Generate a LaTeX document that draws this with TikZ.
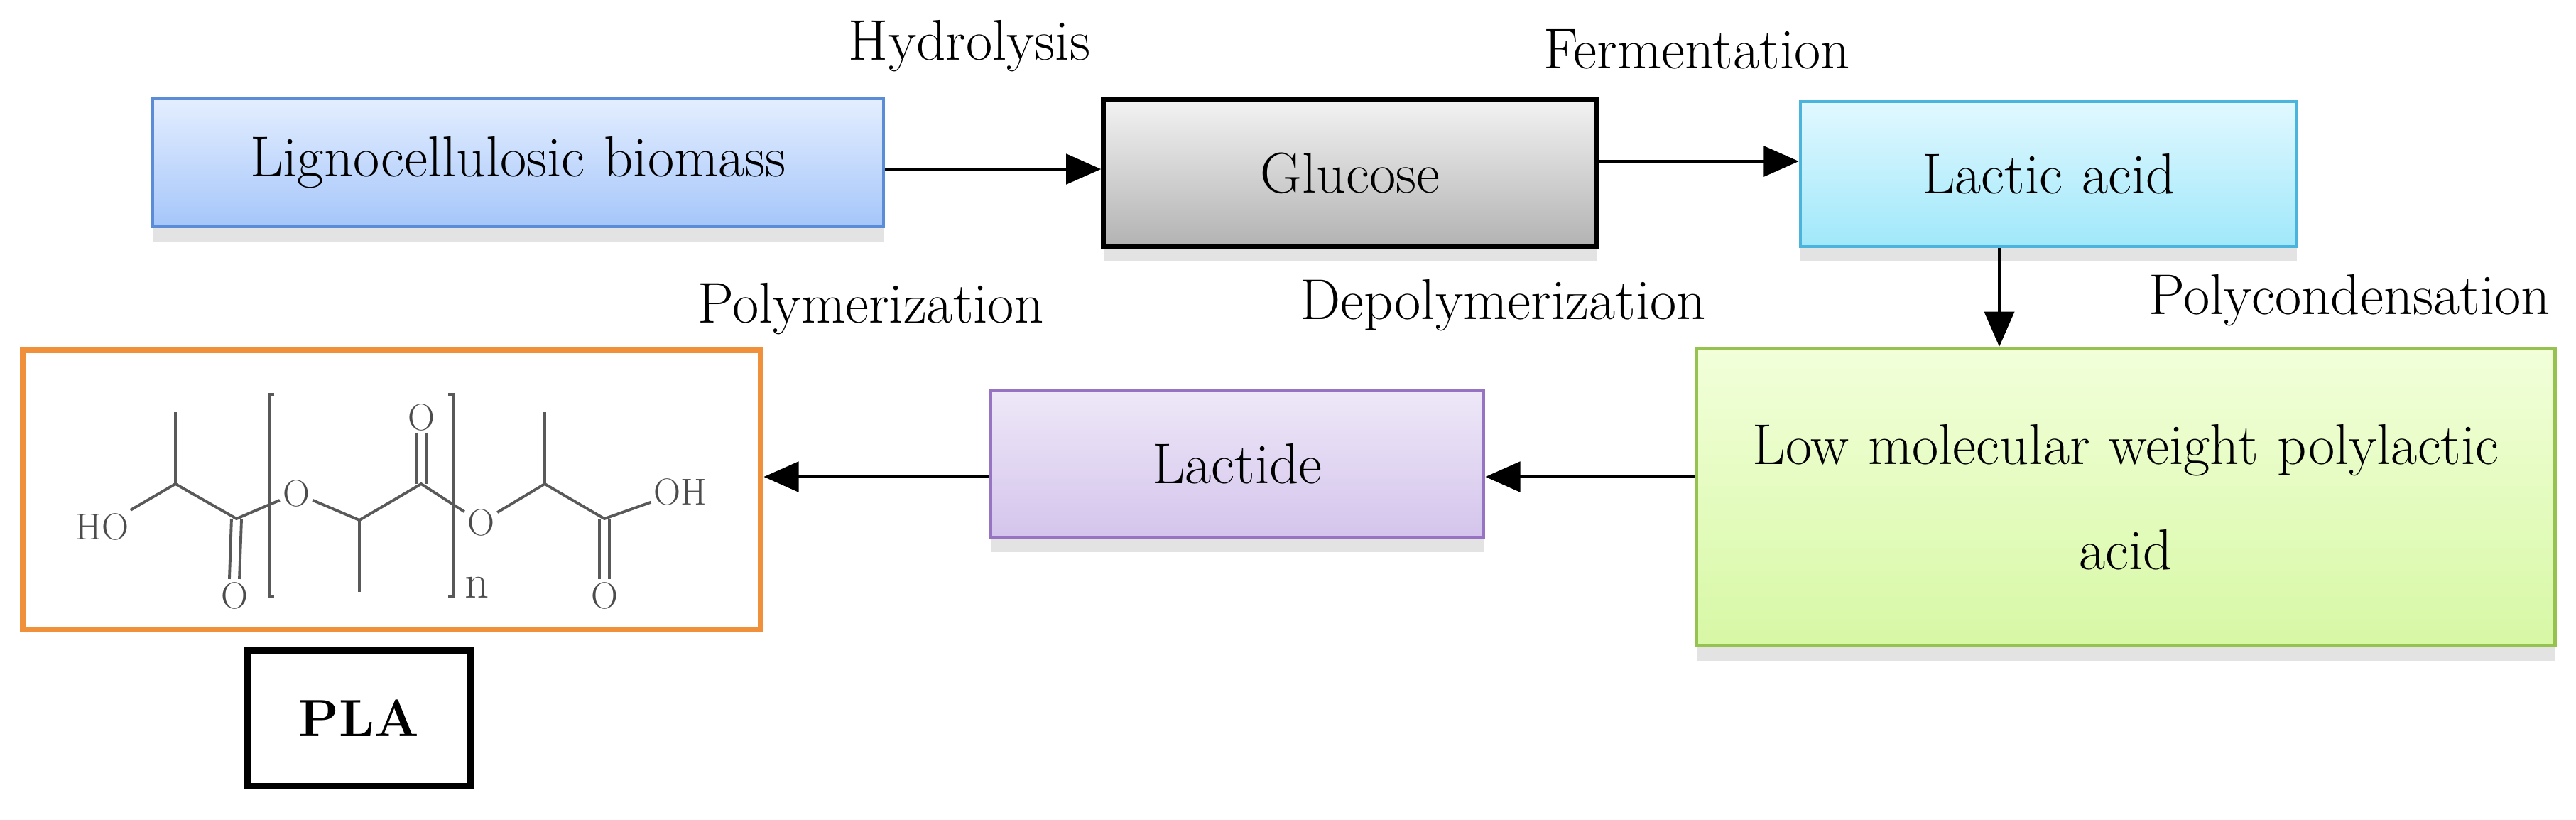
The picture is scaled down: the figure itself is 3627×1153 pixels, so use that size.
\documentclass[tikz,border=0pt]{standalone}
\usetikzlibrary{shadows,arrows.meta}
\begin{document}
\begin{tikzpicture}[x=0.01cm,y=-0.01cm,
  every node/.style={font=\fontsize{23}{28}\selectfont},
  box/.style={rectangle, inner sep=0pt, align=center, line width=1.2pt,
     drop shadow={opacity=0.22, shadow xshift=0pt, shadow yshift=-6pt}},
  arr/.style={line width=1.4pt, -{Triangle[length=14pt,width=12pt]}},
  bond/.style={draw=black!65, line width=1.1pt},
  atom/.style={font=\fontsize{15}{15}\selectfont, text=black!70, inner sep=1pt},
  lbl/.style={anchor=center}]
\useasboundingbox (0,0) rectangle (3627,1153);
\node[box, draw={rgb,255:red,90;green,140;blue,215}, top color={rgb,255:red,228;green,238;blue,255}, bottom color={rgb,255:red,165;green,198;blue,250}, text width=10.29cm, minimum height=1.8cm] (lig) at (729.5,229) {Lignocellulosic biomass};
\node[box, draw=black, line width=2pt, top color=black!5, bottom color=black!30, text width=6.94cm, minimum height=2.06cm] (glu) at (1901,244) {Glucose};
\node[box, draw={rgb,255:red,75;green,180;blue,220}, top color={rgb,255:red,225;green,248;blue,255}, bottom color={rgb,255:red,160;green,232;blue,250}, text width=6.99cm, minimum height=2.04cm] (lac) at (2884.5,245) {Lactic acid};
\node[box, draw={rgb,255:red,150;green,195;blue,80}, top color={rgb,255:red,242;green,255;blue,218}, bottom color={rgb,255:red,215;green,248;blue,165}, text width=12.08cm, minimum height=4.19cm] (low) at (2993,699.5) {Low molecular weight polylactic\\[14pt] acid};
\node[box, draw={rgb,255:red,150;green,115;blue,195}, top color={rgb,255:red,238;green,232;blue,248}, bottom color={rgb,255:red,212;green,196;blue,236}, text width=6.94cm, minimum height=2.06cm] (lt) at (1742,653) {Lactide};
\node[rectangle, draw={rgb,255:red,240;green,144;blue,58}, line width=2.3pt, minimum width=10.39cm, minimum height=3.93cm, inner sep=0pt] (pla) at (551.5,689.5) {};
\node[rectangle, draw=black, line width=2.6pt, minimum width=3.13cm, minimum height=1.9cm, font=\fontsize{21}{25}\selectfont\bfseries] (plab) at (505.5,1011) {PLA};

\node[lbl] (h) at (1365,65) {Hydrolysis};
\node[lbl] (f) at (2389,69) {Fermentation};
\node[lbl] (p1) at (1226,435) {Polymerization};
\node[lbl] (d) at (2116,430) {Depolymerization};
\node[lbl] (pc) at (3308,423) {Polycondensation};

\draw[arr] (lig.east|-0,238) -- (glu.west|-0,238);
\draw[arr] (glu.east|-0,227) -- (lac.west|-0,227);
\draw[arr, line width=1pt] (lac.south-|2815,0) -- (low.north-|2815,0);
\draw[arr] (low.west|-0,671) -- (lt.east|-0,671);
\draw[arr] (lt.west|-0,671) -- (pla.east|-0,671);

% structure
\node[atom] (ho) at (144,741) {HO};
\node[atom] (o1) at (330,838) {O};
\node[atom] (o2) at (417,694) {O};
\node[atom] (o3) at (593,587) {O};
\node[atom] (o4) at (677,735) {O};
\node[atom] (o5) at (851,838) {O};
\node[atom] (oh) at (958,692) {OH};
\node[atom, font=\fontsize{19}{19}\selectfont] (n) at (672,827) {n};
\coordinate (c1) at (247,681); \coordinate (m1) at (247,580);
\coordinate (c2) at (333,730);
\coordinate (c3) at (506,732); \coordinate (m3) at (506,833);
\coordinate (c4) at (593,681);
\coordinate (c5) at (767,681); \coordinate (m5) at (767,580);
\coordinate (c6) at (851,730);
\draw[bond] (ho) -- (c1) -- (c2) -- (o2) -- (c3) -- (c4) -- (o4) -- (c5) -- (c6) -- (oh);
\draw[bond] (c1) -- (m1) (c3) -- (m3) (c5) -- (m5);
\draw[bond] ([xshift=-2pt]c2) -- ([xshift=-2pt]o1.north) ([xshift=2pt]c2) -- ([xshift=2pt]o1.north);
\draw[bond] ([xshift=-2pt]c6) -- ([xshift=-2pt]o5.north) ([xshift=2pt]c6) -- ([xshift=2pt]o5.north);
\draw[bond] ([xshift=-2pt]c4) -- ([xshift=-2pt]o3.south) ([xshift=2pt]c4) -- ([xshift=2pt]o3.south);
\coordinate (bl1) at (386,555); \coordinate (bl2) at (379,555);
\coordinate (bl3) at (379,840); \coordinate (bl4) at (386,840);
\draw[bond] (bl1) -- (bl2) -- (bl3) -- (bl4);
\coordinate (br1) at (631,555); \coordinate (br2) at (638,555);
\coordinate (br3) at (638,840); \coordinate (br4) at (631,840);
\draw[bond] (br1) -- (br2) -- (br3) -- (br4);
\end{tikzpicture}
\end{document}
